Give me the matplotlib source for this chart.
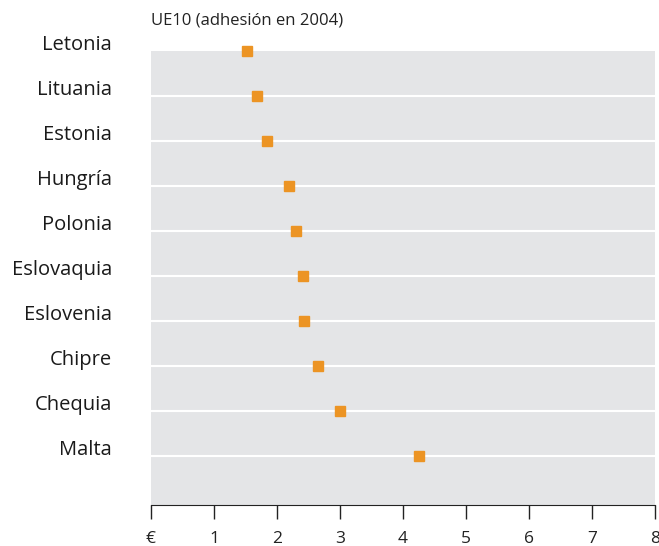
import matplotlib.pyplot as plt
import matplotlib as mpl
import numpy as np

mpl.rcParams['font.family'] = ['Open Sans', 'DejaVu Sans']
mpl.rcParams['font.size'] = 12

# datos
paises = ['Letonia', 'Lituania', 'Estonia', 'Hungría', 'Polonia',
          'Eslovaquia', 'Eslovenia', 'Chipre', 'Chequia', 'Malta']
valores = [1.52, 1.68, 1.84, 2.19, 2.30, 2.41, 2.43, 2.65, 3.00, 4.25]
x_ticks = [0, 1, 2, 3, 4, 5, 6, 7, 8]
x_labels = ['€', '1', '2', '3', '4', '5', '6', '7', '8']
titulo = 'UE10 (adhesión en 2004)'

fig = plt.figure(figsize=(6.59, 5.46), dpi=100)
ax = fig.add_axes([0.229, 0.075, 0.765, 0.832])
ax.set_facecolor('#e4e5e7')

y = np.arange(len(paises))
for yi in y[1:]:
    ax.axhline(yi, color='white', lw=1.5, zorder=1)

ax.plot(valores, y, ls='none', marker='s', ms=6.5, color='#ec9424',
        zorder=3, clip_on=False)

ax.set_xlim(0, 8)
ax.set_ylim(10.09, 0)
ax.set_xticks(x_ticks)
ax.set_xticklabels(x_labels, color='#222222', fontsize=12.5)
ax.tick_params(axis='x', direction='out', length=10, width=1, pad=9, color='#222222')
ax.set_yticks([])
for s in ['top', 'left', 'right']:
    ax.spines[s].set_visible(False)
ax.spines['bottom'].set_color('#222222')

# etiquetas de países
for yi, p in zip(y, paises):
    ax.annotate(p, xy=(0, yi), xycoords=('axes fraction', 'data'),
                xytext=(-39, 6), textcoords='offset pixels',
                ha='right', va='center', color='#1a1a1a', fontsize=14.5)

fig.text(0.229, 0.962, titulo, ha='left', va='center', color='#222222', fontsize=12)

plt.savefig('out.png', dpi=100)
